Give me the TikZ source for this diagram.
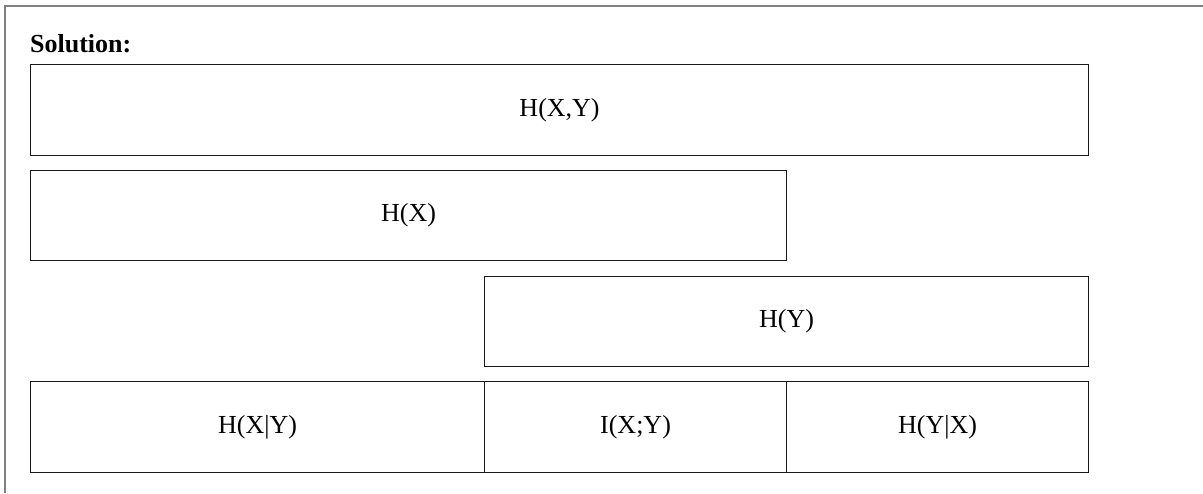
\documentclass[tikz,border=0pt]{standalone}
\usepackage{fontspec}
\setmainfont{Liberation Serif}
\begin{document}
\begin{tikzpicture}[x=1pt,y=-1pt,
  cell/.style={draw=black!90,line width=1.1pt,inner sep=0pt,anchor=north west,font=\fontsize{26}{30}\selectfont},
  frameline/.style={draw=black!50,line width=2pt}]
\useasboundingbox (0,0) rectangle (1203,493);
\draw[frameline] (5,493) -- (5,6) -- (1203,6);
\node[anchor=base west,font=\fontsize{26}{30}\selectfont\bfseries,inner sep=0pt] (title) at (30,52) {Solution:};
\node[cell,minimum width=1058pt,minimum height=91pt] (hxy) at (30,64) {H(X,Y)};
\node[cell,minimum width=756pt,minimum height=90pt] (hx) at (30,170) {H(X)};
\node[cell,minimum width=604pt,minimum height=90pt] (hy) at (484,276) {H(Y)};
\node[cell,minimum width=454pt,minimum height=91pt] (hxgy) at (30,381) {H(X|Y)};
\node[cell,minimum width=302pt,minimum height=91pt] (ixy) at (484,381) {I(X;Y)};
\node[cell,minimum width=302pt,minimum height=91pt] (hygx) at (786,381) {H(Y|X)};
\end{tikzpicture}
\end{document}
